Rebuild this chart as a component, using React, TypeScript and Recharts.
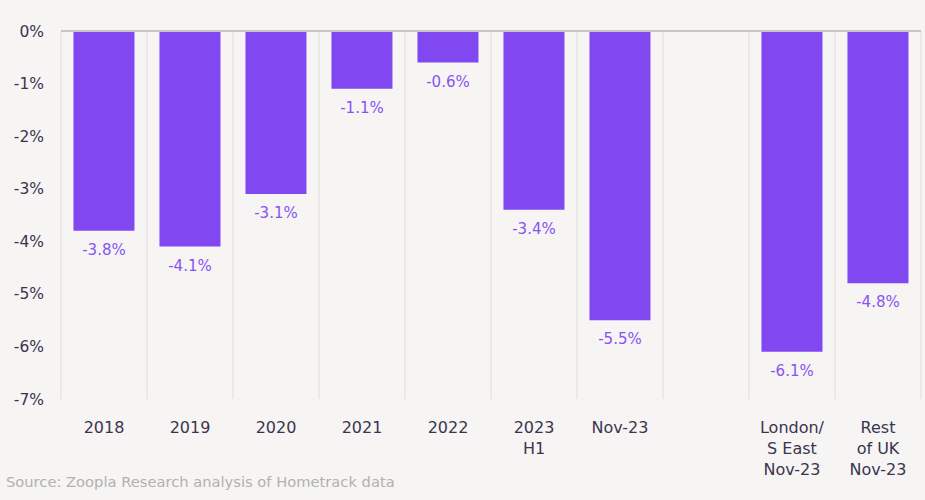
import React from "react";
import {
  BarChart,
  Bar,
  XAxis,
  YAxis,
  CartesianGrid,
  ReferenceLine,
  LabelList,
} from "recharts";

const categories = [
  "2018",
  "2019",
  "2020",
  "2021",
  "2022",
  "2023\nH1",
  "Nov-23",
  "",
  "London/\nS East\nNov-23",
  "Rest\nof UK\nNov-23",
];
const changes = [-3.8, -4.1, -3.1, -1.1, -0.6, -3.4, -5.5, null, -6.1, -4.8];
const yTicks = [0, -1, -2, -3, -4, -5, -6, -7];

const data = categories.map((name, i) => ({ name, change: changes[i] }));

const font = "'DejaVu Sans', sans-serif";
const textColor = "#3b3450";
const purple = "#8147f1";

function XTick({ x, y, payload }: any) {
  const lines = String(payload.value).split("\n");
  return (
    <text x={x} y={y} textAnchor="middle" fill={textColor} fontSize={16} fontFamily={font}>
      {lines.map((line, i) => (
        <tspan key={i} x={x} dy={i === 0 ? 34 : 21}>
          {line}
        </tspan>
      ))}
    </text>
  );
}

function ValueLabel(props: any) {
  const { x, y, width, height, value } = props;
  if (value == null) return null;
  const bottom = Math.max(y, y + height);
  return (
    <text
      x={x + width / 2}
      y={bottom + 24}
      textAnchor="middle"
      fill="#8a52f3"
      fontSize={15}
      fontFamily={font}
    >
      {value.toFixed(1)}%
    </text>
  );
}

export default function App() {
  return (
    <div
      style={{
        position: "absolute",
        left: 0,
        top: 0,
        width: 925,
        height: 500,
        background: "#f6f5f3",
        fontFamily: font,
      }}
    >
      <BarChart
        width={925}
        height={500}
        data={data}
        margin={{ top: 31, right: 4, bottom: 41, left: 0 }}
        barCategoryGap="14.5%"
      >
        <CartesianGrid
          horizontal={false}
          stroke="#e6e4e1"
          strokeWidth={1.5}
          verticalCoordinatesGenerator={({ offset }: any) =>
            Array.from(
              { length: categories.length + 1 },
              (_, i) => offset.left + (i * offset.width) / categories.length
            )
          }
        />
        <XAxis
          dataKey="name"
          axisLine={false}
          tickLine={false}
          tickSize={0}
          tickMargin={0}
          height={60}
          interval={0}
          tick={<XTick />}
        />
        <YAxis
          domain={[-7, 0]}
          ticks={yTicks}
          width={61}
          axisLine={false}
          tickLine={false}
          tickSize={0}
          tickMargin={17}
          tickFormatter={(v: number) => `${v}%`}
          tick={{ fill: textColor, fontSize: 15.5, fontFamily: font }}
        />
        <Bar dataKey="change" fill={purple} isAnimationActive={false}>
          <LabelList dataKey="change" content={<ValueLabel />} />
        </Bar>
        <ReferenceLine y={0} stroke="#c8c6c4" strokeWidth={2} />
      </BarChart>
      <div
        style={{
          position: "absolute",
          left: 6,
          top: 473,
          fontSize: 14.7,
          color: "#b3b0ae",
        }}
      >
        Source: Zoopla Research analysis of Hometrack data
      </div>
    </div>
  );
}
